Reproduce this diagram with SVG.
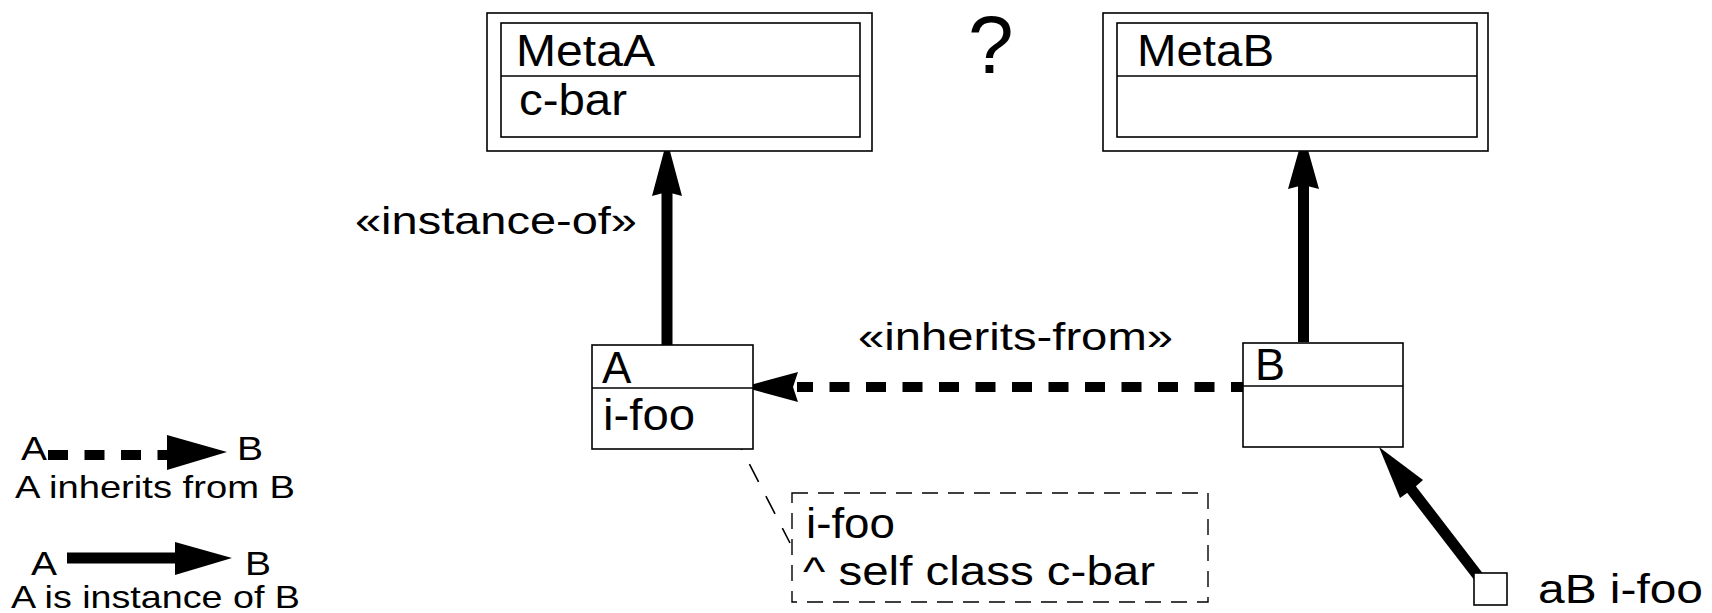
<svg xmlns="http://www.w3.org/2000/svg" width="1712" height="613" viewBox="0 0 1712 613">
<style>
.box{fill:#fff;stroke:#000;stroke-width:1.6}
.line{fill:none;stroke:#000;stroke-width:1.6}
.note{fill:none;stroke:#000;stroke-width:1.4;stroke-dasharray:16 10}
.t{font-family:"Liberation Sans",Arial,sans-serif;fill:#000}
.shaft{fill:none;stroke:#000;stroke-width:11}
.dash{fill:none;stroke:#000;stroke-width:10;stroke-dasharray:20 16.5}
.head{fill:#000;stroke:none}
</style>
<rect x="0" y="0" width="1712" height="613" fill="#fff"/>

<g id="connectors">
  <!-- A instance-of MetaA -->
  <line class="shaft" x1="667" y1="349" x2="667" y2="190"/>
  <polygon class="head" points="667,140 652,196 667,192 682,196"/>
  <!-- B instance-of MetaB -->
  <line class="shaft" x1="1303.5" y1="342" x2="1303.5" y2="183"/>
  <polygon class="head" points="1303.5,134 1288,189 1303.5,185 1319,189"/>
  <!-- A inherits-from B (dashed) -->
  <line class="dash" x1="797" y1="387" x2="1243" y2="387" stroke-dashoffset="4"/>
  <polygon class="head" points="743,387 798,372 793,387 798,402"/>
  <!-- aB instance-of B -->
  <line class="shaft" x1="1478" y1="576" x2="1408" y2="485"/>
  <polygon class="head" points="1379,447 1423,480 1414,488 1400,498"/>
  <!-- note anchor -->
  <line class="line" x1="733" y1="432" x2="790" y2="543" stroke-width="1.2" stroke-dasharray="20 16"/>
  <text class="t" x="355" y="234" font-size="39" textLength="282" lengthAdjust="spacingAndGlyphs">«instance-of»</text>
  <text class="t" x="858" y="350" font-size="39" textLength="315" lengthAdjust="spacingAndGlyphs">«inherits-from»</text>
</g>

<g id="MetaA">
  <rect class="box" x="487" y="13" width="385" height="138"/>
  <rect class="box" x="501" y="23" width="359" height="114"/>
  <line class="line" x1="501" y1="76" x2="860" y2="76"/>
  <text class="t" x="516" y="66" font-size="45" textLength="139" lengthAdjust="spacingAndGlyphs">MetaA</text>
  <text class="t" x="519" y="115" font-size="44" textLength="108" lengthAdjust="spacingAndGlyphs">c-bar</text>
</g>

<g id="question">
  <text class="t" x="968" y="73" font-size="82">?</text>
</g>

<g id="MetaB">
  <rect class="box" x="1103" y="13" width="385" height="138"/>
  <rect class="box" x="1117" y="23" width="360" height="114"/>
  <line class="line" x1="1117" y1="76" x2="1477" y2="76"/>
  <text class="t" x="1137" y="66" font-size="45" textLength="137" lengthAdjust="spacingAndGlyphs">MetaB</text>
</g>

<g id="A">
  <rect class="box" x="592" y="345" width="161" height="104"/>
  <line class="line" x1="592" y1="388" x2="753" y2="388"/>
  <text class="t" x="602" y="383" font-size="44">A</text>
  <text class="t" x="603" y="430" font-size="44" textLength="92" lengthAdjust="spacingAndGlyphs">i-foo</text>
</g>

<g id="B">
  <rect class="box" x="1243" y="343" width="160" height="104"/>
  <line class="line" x1="1243" y1="386" x2="1403" y2="386"/>
  <text class="t" x="1255" y="380" font-size="45">B</text>
</g>

<g id="note">
  <rect class="note" x="792" y="493" width="416" height="109"/>
  <text class="t" x="806" y="538" font-size="42" textLength="89" lengthAdjust="spacingAndGlyphs">i-foo</text>
  <text class="t" x="803" y="585" font-size="40" textLength="352" lengthAdjust="spacingAndGlyphs">^ self class c-bar</text>
</g>

<g id="aB">
  <rect class="box" x="1474" y="573" width="33" height="32"/>
  <text class="t" x="1538" y="603" font-size="40" textLength="165" lengthAdjust="spacingAndGlyphs">aB i-foo</text>
</g>

<g id="legend">
  <text class="t" x="21" y="460" font-size="34" textLength="26" lengthAdjust="spacingAndGlyphs">A</text>
  <line class="dash" x1="48" y1="455" x2="168" y2="455" stroke-width="11" stroke-dasharray="20 16"/>
  <polygon class="head" points="227,452 167,435 167,470"/>
  <text class="t" x="237" y="460" font-size="34" textLength="26" lengthAdjust="spacingAndGlyphs">B</text>
  <text class="t" x="15" y="498" font-size="32" textLength="280" lengthAdjust="spacingAndGlyphs">A inherits from B</text>
  <text class="t" x="31" y="575" font-size="34" textLength="26" lengthAdjust="spacingAndGlyphs">A</text>
  <line class="shaft" x1="67" y1="558" x2="176" y2="558"/>
  <polygon class="head" points="232,558 175,542 175,575"/>
  <text class="t" x="245" y="575" font-size="34" textLength="26" lengthAdjust="spacingAndGlyphs">B</text>
  <text class="t" x="11" y="608" font-size="32" textLength="289" lengthAdjust="spacingAndGlyphs">A is instance of B</text>
</g>
</svg>
